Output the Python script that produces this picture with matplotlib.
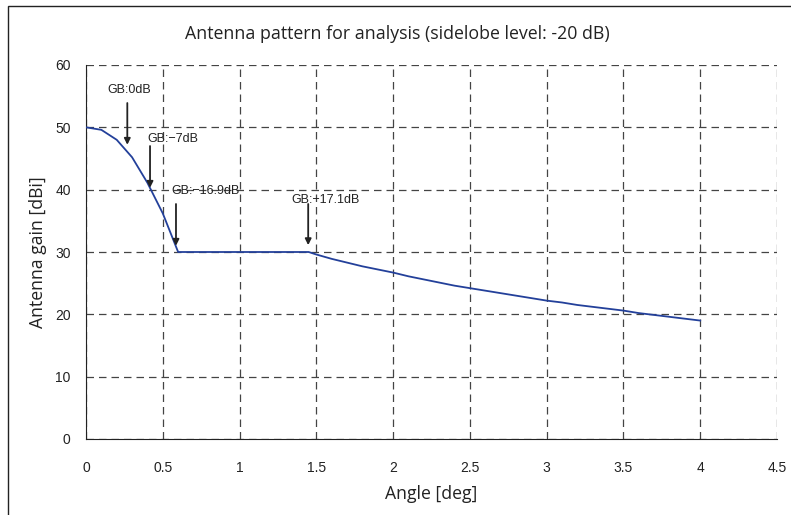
import matplotlib
matplotlib.use("Agg")
import matplotlib.pyplot as plt
from matplotlib.patches import Rectangle
from matplotlib import font_manager

angle = [0.0, 0.1, 0.2, 0.3, 0.4, 0.5, 0.6, 0.7, 0.8, 0.9, 1.0, 1.1, 1.2, 1.3, 1.4, 1.45,
         1.5, 1.6, 1.7, 1.8, 1.9, 2.0, 2.1, 2.2, 2.3, 2.4, 2.5, 2.6, 2.7, 2.8, 2.9,
         3.0, 3.1, 3.2, 3.3, 3.4, 3.5, 3.6, 3.7, 3.8, 3.9, 4.0]
gain = [50.0, 49.6, 48.0, 45.2, 41.1, 36.2, 30.0, 30.0, 30.0, 30.0, 30.0, 30.0, 30.0, 30.0, 30.0, 30.0,
        29.6, 28.9, 28.3, 27.7, 27.2, 26.7, 26.1, 25.6, 25.1, 24.6, 24.2, 23.8, 23.4, 23.0, 22.6,
        22.2, 21.9, 21.5, 21.2, 20.9, 20.6, 20.2, 19.9, 19.6, 19.3, 19.0]

ann_labels = ["GB:0dB", "GB:\u22127dB", "GB:\u221216.9dB", "GB:\u221217.1dB"]
ann_x = [0.269, 0.417, 0.586, 1.447]
ann_top = [53.9, 47.0, 37.7, 37.7]
ann_tip = [47.2, 40.3, 31.0, 31.1]
ann_text_x = [0.28, 0.40, 0.555, 1.34]
ann_text_y = [56.0, 48.2, 39.8, 38.3]
ann_ha = ["center", "left", "left", "left"]

xticks = [0, 0.5, 1, 1.5, 2, 2.5, 3, 3.5, 4, 4.5]
xtick_labels = ["0", "0.5", "1", "1.5", "2", "2.5", "3", "3.5", "4", "4.5"]
yticks = [0, 10, 20, 30, 40, 50, 60]

installed = {f.name for f in font_manager.fontManager.ttflist}
narrow = "Liberation Sans Narrow" if "Liberation Sans Narrow" in installed else "Liberation Sans"

fig = plt.figure(figsize=(7.91, 5.15), dpi=100)
fig.patches.append(Rectangle((8 / 791, -0.1), 1.2, 1.1 - 6 / 515, transform=fig.transFigure,
                             fill=False, edgecolor="#222222", linewidth=1.0))
ax = fig.add_axes([86 / 791, 76 / 515, 691 / 791, 374 / 515])

ax.plot(angle, gain, color="#23409a", linewidth=1.3, zorder=3)

for lab, x, yt, yb, tx, ty, ha in zip(ann_labels, ann_x, ann_top, ann_tip, ann_text_x, ann_text_y, ann_ha):
    ax.annotate("", xy=(x, yb), xytext=(x, yt),
                arrowprops=dict(arrowstyle="-|>", color="#222222", lw=1.3,
                                mutation_scale=9, shrinkA=0, shrinkB=0), zorder=4)
    ax.text(tx, ty, lab, ha=ha, va="center", fontsize=9, family="Liberation Sans",
            color="#222222", zorder=5)

ax.set_xlim(0, 4.5)
ax.set_ylim(0, 60)
ax.set_xticks(xticks)
ax.set_xticklabels(xtick_labels)
ax.set_yticks(yticks)
ax.tick_params(length=0, labelsize=10, colors="#222222")
ax.tick_params(axis="x", pad=16)
ax.tick_params(axis="y", pad=11)
for lbl in ax.get_xticklabels() + ax.get_yticklabels():
    lbl.set_family(narrow)
ax.grid(True, color="#444444", linestyle=(0, (6, 4)), linewidth=0.9)
for s in ["top", "right"]:
    ax.spines[s].set_visible(False)
ax.spines["left"].set_color("#222222")
ax.spines["bottom"].set_color("#222222")

ax.set_xlabel("Angle [deg]", fontsize=12.7, family="Open Sans", color="#222222", labelpad=7)
ax.set_ylabel("Antenna gain [dBi]", fontsize=12.7, family="Open Sans", color="#222222", labelpad=6)
fig.text(397 / 791, 1 - 34 / 515, "Antenna pattern for analysis (sidelobe level: -20 dB)",
         ha="center", va="center", fontsize=12.8, family="Open Sans", color="#222222")

fig.savefig("out.png", dpi=100)
